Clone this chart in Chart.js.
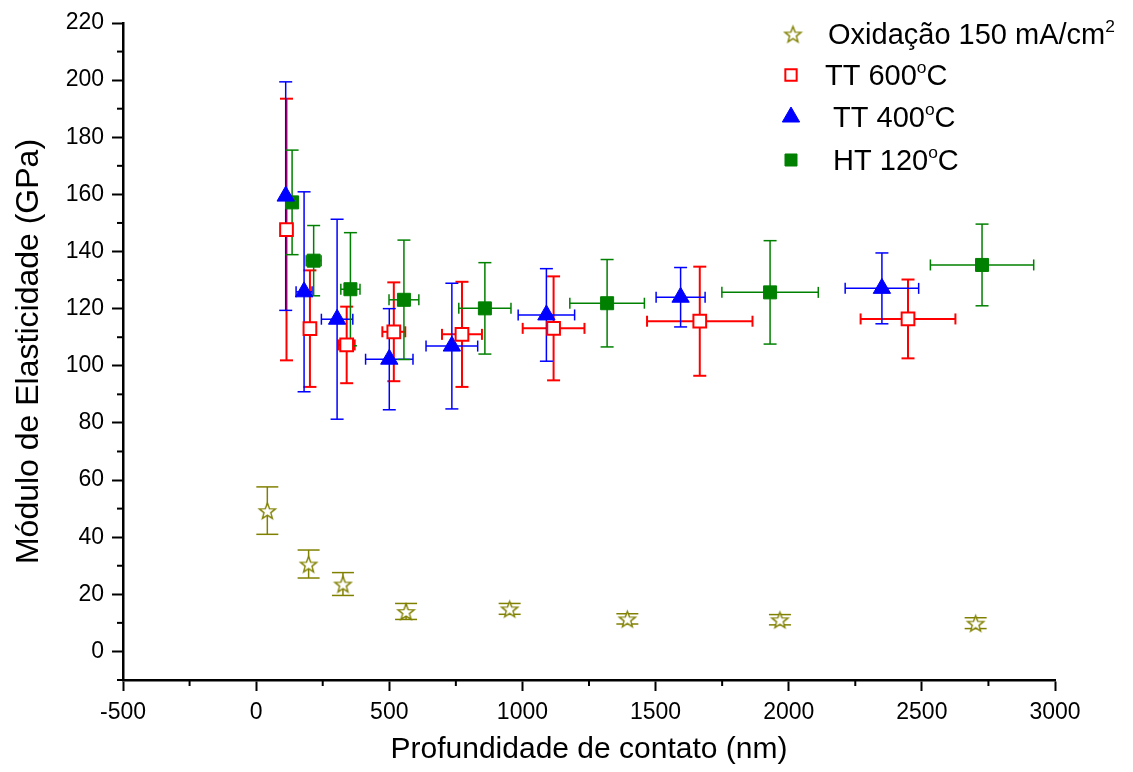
<!DOCTYPE html>
<html>
<head>
<meta charset="utf-8">
<script src="https://cdn.jsdelivr.net/npm/chart.js@4.4.1/dist/chart.umd.min.js"></script>
<style>
  html, body { margin: 0; padding: 0; background: #fff; }
  #wrap { width: 1133px; height: 772px; position: relative; }
</style>
</head>
<body>
<div id="wrap"><canvas id="chart"></canvas></div>
<script>
// values
const seriesNames = ['Oxidação 150 mA/cm^2', 'TT 600^oC', ' TT 400^oC', ' HT 120^oC'];

const oxX    = [42, 197, 326, 563, 952, 1394, 1967, 2702];
const oxY    = [49.3, 30.6, 23.6, 14.0, 14.9, 11.4, 11.1, 9.9];
const oxYErr = [8.3, 4.9, 4.0, 2.8, 1.9, 1.8, 1.8, 1.9];

const tt600X    = [114, 202, 340, 517, 773, 1117, 1666, 2448];
const tt600Y    = [147.7, 113.0, 107.3, 111.9, 111.0, 113.1, 115.6, 116.4];
const tt600YErr = [45.8, 20.4, 13.4, 17.3, 18.4, 18.2, 19.1, 13.8];
const tt600XErr = [0, 0, 30, 43, 75, 116, 198, 178];

const tt400X    = [111, 180, 304, 500, 735, 1090, 1594, 2350];
const tt400Y    = [159.4, 125.9, 116.3, 102.3, 106.9, 117.8, 124.0, 127.1];
const tt400YErr = [40, 35, 35, 17.7, 22, 16.2, 10.4, 12.4];
const tt400XErr = [0, 30, 59, 89, 97, 106, 92, 138];

const ht120X    = [135, 216, 354, 555, 859, 1318, 1930, 2726];
const ht120Y    = [157.2, 136.8, 126.8, 123.1, 120.1, 121.9, 125.7, 135.3];
const ht120YErr = [18.3, 12.3, 19.8, 20.9, 16, 15.3, 18.1, 14.3];
const ht120XErr = [0, 28, 36, 56, 98, 140, 181, 194];

const xTicks = [-500, 0, 500, 1000, 1500, 2000, 2500, 3000];
const xMinor = [-250, 250, 750, 1250, 1750, 2250, 2750];
const yTicks = [0, 20, 40, 60, 80, 100, 120, 140, 160, 180, 200, 220];
const yMinor = [-10, 10, 30, 50, 70, 90, 110, 130, 150, 170, 190, 210];

const FONT = "'Liberation Sans', Arial, sans-serif";

function points(xs, ys, ye, xe) {
    return xs.map((v, i) => ({ x: v, y: ys[i], yErr: ye ? ye[i] : 0, xErr: xe ? xe[i] : 0 }));
}

// open five-pointed star marker
function makeStar(r, color) {
    const c = document.createElement('canvas');
    const s = Math.ceil(r * 2 + 4);
    c.width = s; c.height = s;
    const g = c.getContext('2d');
    g.beginPath();
    for (let i = 0; i < 10; i++) {
        const rr = i % 2 ? r * 0.42 : r;
        const a = -Math.PI / 2 + i * Math.PI / 5;
        g.lineTo(s / 2 + rr * Math.cos(a), s / 2 + 1 + rr * Math.sin(a));
    }
    g.closePath();
    g.fillStyle = '#fff';
    g.fill();
    g.strokeStyle = color;
    g.lineWidth = 1.4;
    g.stroke();
    return c;
}
const starImg = makeStar(8.5, '#808000');

// error bars, drawn under the markers
const errorBars = {
    id: 'errorBars',
    beforeDatasetsDraw(chart) {
        const { ctx, scales: { x, y } } = chart;
        ctx.save();
        chart.data.datasets.forEach(ds => {
            ctx.strokeStyle = ds.errColor;
            ctx.lineWidth = ds.errWidth;
            const cap = ds.capSize;
            const seg = (a, b, c, d) => { ctx.beginPath(); ctx.moveTo(a, b); ctx.lineTo(c, d); ctx.stroke(); };
            ds.data.forEach(p => {
                const px = x.getPixelForValue(p.x);
                const py = y.getPixelForValue(p.y);
                if (p.yErr) {
                    const t = y.getPixelForValue(p.y + p.yErr);
                    const b = y.getPixelForValue(p.y - p.yErr);
                    seg(px, t, px, b);
                    seg(px - cap, t, px + cap, t);
                    seg(px - cap, b, px + cap, b);
                }
                if (p.xErr) {
                    const l = x.getPixelForValue(p.x - p.xErr);
                    const r = x.getPixelForValue(p.x + p.xErr);
                    seg(l, py, r, py);
                    seg(l, py - 5.5, l, py + 5.5);
                    seg(r, py - 5.5, r, py + 5.5);
                }
            });
        });
        ctx.restore();
    }
};

// minor ticks on both axes
const minorTicks = {
    id: 'minorTicks',
    afterDraw(chart) {
        const { ctx, scales: { x, y }, chartArea } = chart;
        ctx.save();
        ctx.strokeStyle = '#000';
        ctx.lineWidth = 2;
        xMinor.forEach(v => {
            const px = x.getPixelForValue(v);
            ctx.beginPath(); ctx.moveTo(px, chartArea.bottom); ctx.lineTo(px, chartArea.bottom + 6); ctx.stroke();
        });
        yMinor.forEach(v => {
            const py = y.getPixelForValue(v);
            ctx.beginPath(); ctx.moveTo(chartArea.left, py); ctx.lineTo(chartArea.left - 6, py); ctx.stroke();
        });
        ctx.restore();
    }
};

function drawRich(ctx, text, x, y, size) {
    const parts = text.split(/\^(.)/);
    parts.forEach((s, i) => {
        if (!s) return;
        const sup = i % 2 === 1;
        ctx.font = (sup ? size * 0.6 : size) + 'px ' + FONT;
        ctx.fillText(s, x, sup ? y - size * 0.42 : y);
        x += ctx.measureText(s).width;
    });
}

// legend in the top right corner, with superscripts
const richLegend = {
    id: 'richLegend',
    afterDraw(chart) {
        const ctx = chart.ctx;
        const rows = [
            { mx: 793, my: 34, tx: 828, ty: 44 },
            { mx: 791, my: 75, tx: 825, ty: 85 },
            { mx: 791, my: 117, tx: 825, ty: 127 },
            { mx: 791, my: 160, tx: 825, ty: 170 }
        ];
        ctx.save();
        chart.data.datasets.forEach((ds, i) => {
            const r = rows[i];
            ctx.fillStyle = ds.backgroundColor;
            ctx.strokeStyle = ds.borderColor;
            ctx.lineWidth = ds.borderWidth;
            Chart.helpers.drawPoint(ctx, {
                pointStyle: ds.pointStyle, rotation: 0,
                radius: ds.legendRadius, borderWidth: ds.borderWidth
            }, r.mx, r.my);
            ctx.fillStyle = '#000';
            ctx.textBaseline = 'alphabetic';
            ctx.textAlign = 'left';
            drawRich(ctx, seriesNames[i], r.tx, r.ty, 29);
        });
        ctx.restore();
    }
};

const axisCommon = {
    border: { display: true, color: '#000', width: 2.5 },
    grid: { display: true, drawOnChartArea: false, drawTicks: true, tickLength: 11, tickWidth: 2, tickColor: '#000' }
};

new Chart(document.getElementById('chart'), {
    type: 'scatter',
    data: {
        datasets: [
            {
                label: seriesNames[0],
                data: points(oxX, oxY, oxYErr),
                pointStyle: starImg,
                backgroundColor: '#ffffff',
                borderColor: '#808000',
                borderWidth: 1.4,
                errColor: '#808000', errWidth: 1.5, capSize: 11,
                legendRadius: 8
            },
            {
                label: seriesNames[1],
                data: points(tt600X, tt600Y, tt600YErr, tt600XErr),
                pointStyle: 'rect',
                pointRadius: 9,
                backgroundColor: '#ffffff',
                borderColor: '#ff0000',
                borderWidth: 2,
                errColor: '#ff0000', errWidth: 2, capSize: 6.5,
                legendRadius: 8
            },
            {
                label: seriesNames[2],
                data: points(tt400X, tt400Y, tt400YErr, tt400XErr),
                pointStyle: 'triangle',
                pointRadius: 10,
                backgroundColor: '#0000ff',
                borderColor: '#0000ff',
                borderWidth: 1,
                errColor: '#0000ff', errWidth: 1.5, capSize: 6.5,
                legendRadius: 10
            },
            {
                label: seriesNames[3],
                data: points(ht120X, ht120Y, ht120YErr, ht120XErr),
                pointStyle: 'rect',
                pointRadius: 9.2,
                backgroundColor: '#008000',
                borderColor: '#008000',
                borderWidth: 1,
                errColor: '#008000', errWidth: 1.5, capSize: 6.5,
                legendRadius: 8.5
            }
        ]
    },
    options: {
        responsive: true,
        maintainAspectRatio: false,
        animation: false,
        layout: { padding: { top: 23, right: 78, left: 0, bottom: 0 } },
        plugins: {
            legend: { display: false },
            tooltip: { enabled: false }
        },
        scales: {
            x: {
                type: 'linear',
                min: -500,
                max: 3000,
                ...axisCommon,
                afterBuildTicks: s => { s.ticks = xTicks.map(v => ({ value: v })); },
                afterFit: s => { s.height = 92; },
                ticks: {
                    color: '#000', font: { family: FONT, size: 23 }, padding: 8,
                    autoSkip: false, maxRotation: 0, callback: v => String(v)
                },
                title: {
                    display: true, text: 'Profundidade de contato (nm)', color: '#000',
                    font: { family: FONT, size: 30 }, padding: { top: 0, bottom: 4 }
                }
            },
            y: {
                type: 'linear',
                min: -10,
                max: 220,
                ...axisCommon,
                afterBuildTicks: s => { s.ticks = yTicks.map(v => ({ value: v })); },
                afterFit: s => { s.width = 123; },
                ticks: {
                    color: '#000', font: { family: FONT, size: 23 }, padding: 8,
                    autoSkip: false, callback: v => String(v)
                },
                title: {
                    display: true, text: 'Módulo de Elasticidade (GPa)', color: '#000',
                    font: { family: FONT, size: 32 }, padding: { top: 10, bottom: 0 }
                }
            }
        }
    },
    plugins: [errorBars, minorTicks, richLegend]
});
</script>
</body>
</html>
